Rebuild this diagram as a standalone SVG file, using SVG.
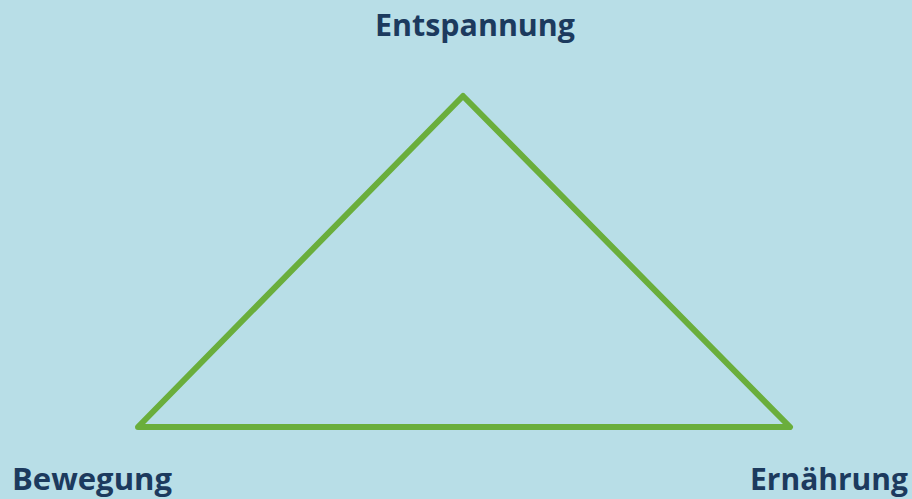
<svg xmlns="http://www.w3.org/2000/svg" width="912" height="499" viewBox="0 0 912 499">
<style>
.lbl{font-family:"Open Sans","Liberation Sans",sans-serif;font-weight:bold;font-size:30px;fill:#1c3a5e}
.edge{stroke:#6aae3c;stroke-width:6;stroke-linecap:round;stroke-linejoin:round;fill:none}
</style>
<rect width="912" height="499" fill="#b8dee7"/>
<g id="connectors">
<path class="edge" d="M463 96 L790 427 L138 427 Z"/>
</g>
<g id="entspannung"><text class="lbl" x="475" y="36" text-anchor="middle" textLength="200" lengthAdjust="spacingAndGlyphs">Entspannung</text></g>
<g id="bewegung"><text class="lbl" x="12" y="490" textLength="160" lengthAdjust="spacingAndGlyphs">Bewegung</text></g>
<g id="ernaehrung"><text class="lbl" x="750" y="490" textLength="158" lengthAdjust="spacingAndGlyphs">Ernährung</text></g>
</svg>
